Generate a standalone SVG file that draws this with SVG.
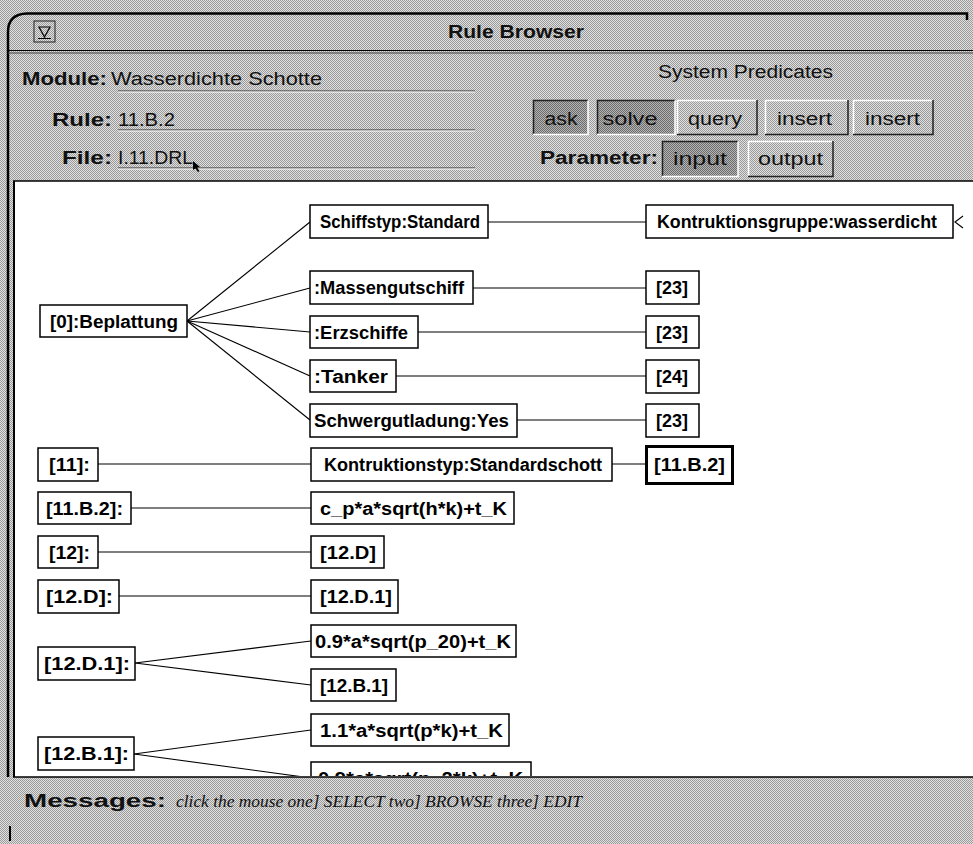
<svg xmlns="http://www.w3.org/2000/svg" width="973" height="844" viewBox="0 0 973 844">
<defs>
<pattern id="d1" width="2" height="2" patternUnits="userSpaceOnUse"><rect width="2" height="2" fill="#e0e0e0"/><rect width="1" height="1" fill="#9a9a9a"/><rect x="1" y="1" width="1" height="1" fill="#9a9a9a"/></pattern>
<pattern id="d2" width="2" height="2" patternUnits="userSpaceOnUse"><rect width="2" height="2" fill="#b4b4b4"/><rect width="1" height="1" fill="#6c6c6c"/><rect x="1" y="1" width="1" height="1" fill="#6c6c6c"/></pattern>
<clipPath id="cv"><rect x="15" y="182" width="958" height="594"/></clipPath>
</defs>
<style>
text{white-space:pre}
.lbl{font-family:"Liberation Sans",Arial,sans-serif;font-weight:bold;font-size:18px;fill:#111}
.val{font-family:"Liberation Sans",Arial,sans-serif;font-size:18px;fill:#111}
.btn{font-family:"Liberation Sans",Arial,sans-serif;font-size:18px;fill:#111;text-anchor:middle}
.node rect{fill:#fff;stroke:#000;stroke-width:1.5}
.node text{font-family:"Liberation Sans",Arial,sans-serif;font-weight:bold;font-size:18px;fill:#000}
.conn line,.conn path{stroke:#000;stroke-width:1.1;fill:none}
.hi{stroke:#fff;stroke-width:1.5;fill:none}
.sh{stroke:#222;stroke-width:1.5;fill:none}
.ul1{stroke:#333;stroke-width:1}
.ul2{stroke:#fff;stroke-width:1}
</style>
<rect width="973" height="844" fill="url(#d1)"/>
<g id="frame">
<path d="M8 777 V32 Q8 14 27 13.5 H967 V20" stroke="#000" stroke-width="2.5" fill="none"/>
<line x1="8" y1="50.5" x2="973" y2="50.5" stroke="#000" stroke-width="1.2"/>
<line x1="8" y1="53" x2="973" y2="53" stroke="#444" stroke-width="1"/>
<path d="M10 826 V841" stroke="#000" stroke-width="2"/>
</g>
<g id="titlebar">
<rect x="34" y="21" width="21" height="21" fill="url(#d1)" stroke="#222" stroke-width="1"/>
<path d="M39 27 H50 L44.5 37 Z" fill="none" stroke="#000" stroke-width="1.2"/>
<line x1="38" y1="38.5" x2="51" y2="38.5" stroke="#000" stroke-width="1"/>
<text x="516" y="38" class="lbl" font-size="19" text-anchor="middle" textLength="136" lengthAdjust="spacingAndGlyphs">Rule Browser</text>
</g>
<g id="fields">
<text x="22" y="85" class="lbl" textLength="85" lengthAdjust="spacingAndGlyphs">Module:</text>
<text x="111" y="85" class="val" textLength="211" lengthAdjust="spacingAndGlyphs">Wasserdichte Schotte</text>
<line x1="118" y1="91" x2="475" y2="91" class="ul1"/><line x1="118" y1="92" x2="475" y2="92" class="ul2"/>
<text x="52" y="126" class="lbl" textLength="60" lengthAdjust="spacingAndGlyphs">Rule:</text>
<text x="118" y="126" class="val" textLength="57" lengthAdjust="spacingAndGlyphs">11.B.2</text>
<line x1="118" y1="130" x2="475" y2="130" class="ul1"/><line x1="118" y1="131" x2="475" y2="131" class="ul2"/>
<text x="62" y="164" class="lbl" textLength="50" lengthAdjust="spacingAndGlyphs">File:</text>
<text x="118" y="164" class="val" textLength="75" lengthAdjust="spacingAndGlyphs">I.11.DRL</text>
<line x1="118" y1="168" x2="475" y2="168" class="ul1"/><line x1="118" y1="169" x2="475" y2="169" class="ul2"/>
<path d="M193 161 L200 167 L197 167.5 L199.5 171 L198 172 L195.5 168.5 L193 170 Z" fill="#000"/>
</g>
<g id="predicates">
<text x="658" y="78" class="val" textLength="175" lengthAdjust="spacingAndGlyphs">System Predicates</text>
<g id="btn-ask"><rect x="533" y="100" width="55" height="35" fill="url(#d2)"/><path d="M533.5 135 V100.5 H588" class="sh" stroke-width="1"/><path d="M588 100.5 V134.5 H533" class="hi"/><text x="561" y="125" class="btn" textLength="33" lengthAdjust="spacingAndGlyphs">ask</text></g>
<g id="btn-solve"><rect x="597" y="100" width="78" height="35" fill="url(#d2)"/><path d="M597.5 135 V100.5 H675" class="sh" stroke-width="1"/><path d="M675 100.5 V134.5 H597" class="hi"/><text x="630" y="125" class="btn" textLength="55" lengthAdjust="spacingAndGlyphs">solve</text></g>
<g id="btn-query"><rect x="677" y="100" width="80" height="35" fill="url(#d1)"/><path d="M677.5 135 V100.5 H757" class="hi"/><path d="M757 100 V134.5 H677" class="sh"/><text x="715" y="125" class="btn" textLength="54" lengthAdjust="spacingAndGlyphs">query</text></g>
<g id="btn-insert1"><rect x="765" y="100" width="83" height="35" fill="url(#d1)"/><path d="M765.5 135 V100.5 H848" class="hi"/><path d="M848 100 V134.5 H765" class="sh"/><text x="804.5" y="125" class="btn" textLength="55" lengthAdjust="spacingAndGlyphs">insert</text></g>
<g id="btn-insert2"><rect x="853" y="100" width="80" height="35" fill="url(#d1)"/><path d="M853.5 135 V100.5 H933" class="hi"/><path d="M933 100 V134.5 H853" class="sh"/><text x="892.5" y="125" class="btn" textLength="55" lengthAdjust="spacingAndGlyphs">insert</text></g>
<text x="540" y="164" class="lbl" textLength="118" lengthAdjust="spacingAndGlyphs">Parameter:</text>
<g id="btn-input"><rect x="662" y="141" width="76" height="36" fill="url(#d2)"/><path d="M662.5 177 V141.5 H738" class="sh" stroke-width="1"/><path d="M738 141.5 V176.5 H662" class="hi"/><text x="700" y="165" class="btn" textLength="54" lengthAdjust="spacingAndGlyphs">input</text></g>
<g id="btn-output"><rect x="748" y="141" width="85" height="36" fill="url(#d1)"/><path d="M748.5 177 V141.5 H833" class="hi"/><path d="M833 141 V176.5 H748" class="sh"/><text x="790.5" y="165" class="btn" textLength="65" lengthAdjust="spacingAndGlyphs">output</text></g>
</g>
<g id="canvas">
<rect x="14" y="181" width="959" height="596" fill="#fff"/>
<line x1="13" y1="181" x2="973" y2="181" stroke="#000" stroke-width="1.5"/>
<line x1="14" y1="181" x2="14" y2="777" stroke="#000" stroke-width="2"/>
<line x1="13" y1="777" x2="973" y2="777" stroke="#000" stroke-width="1.5"/>
</g>
<g class="conn" id="connectors" clip-path="url(#cv)">
<line x1="187" y1="321" x2="310" y2="222"/>
<line x1="187" y1="321" x2="310" y2="288"/>
<line x1="187" y1="321" x2="310" y2="332"/>
<line x1="187" y1="321" x2="310" y2="376"/>
<line x1="187" y1="321" x2="310" y2="420"/>
<line x1="488" y1="222" x2="646" y2="222"/>
<line x1="473" y1="288" x2="646" y2="288"/>
<line x1="418" y1="332" x2="646" y2="332"/>
<line x1="396" y1="376" x2="646" y2="376"/>
<line x1="517" y1="420" x2="646" y2="420"/>
<path d="M963 216 L955 222 L963 228"/>
<line x1="98" y1="464" x2="311" y2="464"/>
<line x1="612" y1="464" x2="645" y2="464"/>
<line x1="131" y1="508" x2="311" y2="508"/>
<line x1="98" y1="552" x2="311" y2="552"/>
<line x1="119" y1="596" x2="311" y2="596"/>
<line x1="135" y1="663" x2="311" y2="641"/>
<line x1="135" y1="663" x2="311" y2="685"/>
<line x1="134" y1="754" x2="311" y2="730"/>
<line x1="134" y1="754" x2="311" y2="778"/>
</g>
<g id="nodes" class="node">
<g id="n-beplattung"><rect x="40" y="305" width="147" height="32"/><text x="50" y="327.5" textLength="128" lengthAdjust="spacingAndGlyphs">[0]:Beplattung</text></g>
<g id="n-schiffstyp"><rect x="310" y="205" width="178" height="33"/><text x="320" y="228" textLength="160" lengthAdjust="spacingAndGlyphs">Schiffstyp:Standard</text></g>
<g id="n-kgruppe"><rect x="646" y="205" width="307" height="33"/><text x="657" y="228" textLength="280" lengthAdjust="spacingAndGlyphs">Kontruktionsgruppe:wasserdicht</text></g>
<g id="n-massengut"><rect x="310" y="271" width="163" height="33"/><text x="314" y="294" textLength="150" lengthAdjust="spacingAndGlyphs">:Massengutschiff</text></g>
<g id="n-23a"><rect x="646" y="271" width="53" height="33"/><text x="656" y="294" textLength="32" lengthAdjust="spacingAndGlyphs">[23]</text></g>
<g id="n-erz"><rect x="310" y="316" width="108" height="32"/><text x="314" y="338.5" textLength="94" lengthAdjust="spacingAndGlyphs">:Erzschiffe</text></g>
<g id="n-23b"><rect x="646" y="316" width="53" height="32"/><text x="656" y="338.5" textLength="32" lengthAdjust="spacingAndGlyphs">[23]</text></g>
<g id="n-tanker"><rect x="310" y="360" width="86" height="32"/><text x="314" y="382.5" textLength="74" lengthAdjust="spacingAndGlyphs">:Tanker</text></g>
<g id="n-24"><rect x="646" y="360" width="53" height="33"/><text x="656" y="383" textLength="32" lengthAdjust="spacingAndGlyphs">[24]</text></g>
<g id="n-schwergut"><rect x="310" y="404" width="207" height="33"/><text x="314" y="427" textLength="195" lengthAdjust="spacingAndGlyphs">Schwergutladung:Yes</text></g>
<g id="n-23c"><rect x="646" y="404" width="53" height="33"/><text x="656" y="427" textLength="32" lengthAdjust="spacingAndGlyphs">[23]</text></g>
<g id="n-11"><rect x="38" y="448" width="60" height="33"/><text x="49" y="471" textLength="41" lengthAdjust="spacingAndGlyphs">[11]:</text></g>
<g id="n-ktyp"><rect x="311" y="448" width="301" height="33"/><text x="324" y="471" textLength="278" lengthAdjust="spacingAndGlyphs">Kontruktionstyp:Standardschott</text></g>
<g id="n-11b2sel"><rect x="646.5" y="446.5" width="86" height="37" style="stroke-width:3"/><text x="654" y="471" textLength="71" lengthAdjust="spacingAndGlyphs">[11.B.2]</text></g>
<g id="n-11b2"><rect x="38" y="492" width="93" height="32"/><text x="46" y="514.5" textLength="77" lengthAdjust="spacingAndGlyphs">[11.B.2]:</text></g>
<g id="n-cp"><rect x="311" y="492" width="203" height="32"/><text x="320" y="514.5" textLength="187" lengthAdjust="spacingAndGlyphs">c_p*a*sqrt(h*k)+t_K</text></g>
<g id="n-12"><rect x="38" y="536" width="60" height="32"/><text x="49" y="558.5" textLength="41" lengthAdjust="spacingAndGlyphs">[12]:</text></g>
<g id="n-12d-ref"><rect x="311" y="536" width="73" height="32"/><text x="320" y="558.5" textLength="56" lengthAdjust="spacingAndGlyphs">[12.D]</text></g>
<g id="n-12d"><rect x="38" y="580" width="81" height="33"/><text x="46" y="603" textLength="67" lengthAdjust="spacingAndGlyphs">[12.D]:</text></g>
<g id="n-12d1-ref"><rect x="311" y="580" width="87" height="33"/><text x="320" y="603" textLength="72" lengthAdjust="spacingAndGlyphs">[12.D.1]</text></g>
<g id="n-09"><rect x="311" y="625" width="205" height="32"/><text x="315" y="647.5" textLength="196" lengthAdjust="spacingAndGlyphs">0.9*a*sqrt(p_20)+t_K</text></g>
<g id="n-12d1"><rect x="38" y="647" width="97" height="33"/><text x="44" y="670" textLength="86" lengthAdjust="spacingAndGlyphs">[12.D.1]:</text></g>
<g id="n-12b1-ref"><rect x="311" y="669" width="85" height="32"/><text x="320" y="691.5" textLength="68" lengthAdjust="spacingAndGlyphs">[12.B.1]</text></g>
<g id="n-11a"><rect x="311" y="714" width="198" height="32"/><text x="320" y="736.5" textLength="183" lengthAdjust="spacingAndGlyphs">1.1*a*sqrt(p*k)+t_K</text></g>
<g id="n-12b1"><rect x="38" y="737" width="96" height="33"/><text x="44" y="760" textLength="85" lengthAdjust="spacingAndGlyphs">[12.B.1]:</text></g>
<g id="n-trunc" clip-path="url(#cv)"><rect x="311" y="762" width="220" height="32"/><text x="318" y="784.5" textLength="205" lengthAdjust="spacingAndGlyphs">0.9*a*sqrt(p_2*k)+t_K</text></g>
</g>
<g id="messages">
<text x="24" y="807" class="lbl" textLength="142" lengthAdjust="spacingAndGlyphs">Messages:</text>
<text x="176" y="807" font-family="'Liberation Serif','Times New Roman',serif" font-style="italic" font-size="17" fill="#111" textLength="406" lengthAdjust="spacingAndGlyphs">click the mouse one] SELECT two] BROWSE three] EDIT</text>
</g>
</svg>
